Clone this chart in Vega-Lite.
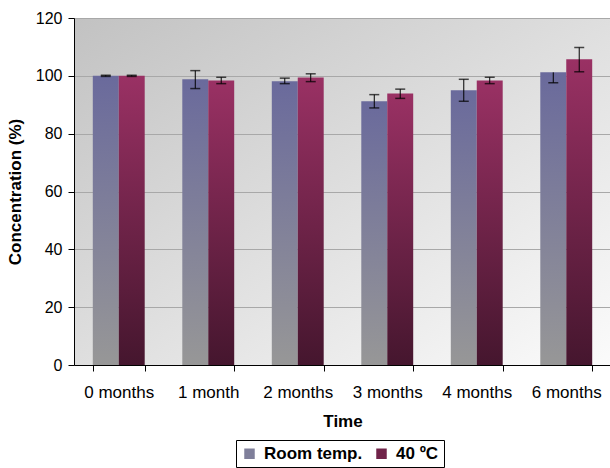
{
  "$schema": "https://vega.github.io/schema/vega-lite/v6.json",
  "autosize": {"type": "none"},
  "padding": {"left": 74, "top": 18, "right": 0, "bottom": 103},
  "width": 537,
  "height": 347,
  "background": "white",
  "config": {
    "font": "Liberation Sans",
    "view": {"stroke": null, "fill": {"gradient": "linear", "x1": 0, "y1": 0, "x2": 1, "y2": 1, "stops": [{"offset": 0, "color": "#c2c2c2"}, {"offset": 1, "color": "#fbfbfb"}]}}
  },
  "data": {
    "values": [
      {"time": "0 months", "series": "Room temp.", "value": 100, "lo": 99.8, "hi": 100.2},
      {"time": "0 months", "series": "40 ºC", "value": 100, "lo": 99.8, "hi": 100.2},
      {"time": "1 month", "series": "Room temp.", "value": 98.8, "lo": 95.6, "hi": 101.8},
      {"time": "1 month", "series": "40 ºC", "value": 98.4, "lo": 97.3, "hi": 99.5},
      {"time": "2 months", "series": "Room temp.", "value": 98.1, "lo": 97.3, "hi": 99.2},
      {"time": "2 months", "series": "40 ºC", "value": 99.4, "lo": 98.0, "hi": 100.7},
      {"time": "3 months", "series": "Room temp.", "value": 91.2, "lo": 88.9, "hi": 93.5},
      {"time": "3 months", "series": "40 ºC", "value": 93.9, "lo": 92.2, "hi": 95.4},
      {"time": "4 months", "series": "Room temp.", "value": 95.0, "lo": 91.2, "hi": 98.8},
      {"time": "4 months", "series": "40 ºC", "value": 98.4, "lo": 97.3, "hi": 99.5},
      {"time": "6 months", "series": "Room temp.", "value": 101.2, "lo": 97.6, "hi": 101.2},
      {"time": "6 months", "series": "40 ºC", "value": 105.7, "lo": 101.4, "hi": 109.8}
    ]
  },
  "encoding": {
    "x": {
      "field": "time", "type": "nominal", "sort": null,
      "scale": {"paddingInner": 0.42, "paddingOuter": 0.21},
      "axis": {
        "title": "Time", "labelAngle": 0, "labelFontSize": 17, "labelColor": "black",
        "labelPadding": 13, "domainColor": "black", "tickColor": "black", "tickSize": 6,
        "tickBand": "extent", "titleFontSize": 17, "titleFontWeight": "bold", "titleColor": "black",
        "titlePadding": 13, "labelLimit": 0
      }
    },
    "xOffset": {"field": "series", "type": "nominal", "sort": ["Room temp.", "40 ºC"], "scale": {"domain": ["Room temp.", "40 ºC"]}}
  },
  "layer": [
    {
      "transform": [{"filter": "datum.series === 'Room temp.'"}],
      "mark": {"type": "bar", "color": {"gradient": "linear", "x1": 0, "y1": 0, "x2": 0, "y2": 1, "stops": [{"offset": 0, "color": "#6a6a9c"}, {"offset": 1, "color": "#979797"}]}},
      "encoding": {
        "y": {
          "field": "value", "type": "quantitative",
          "scale": {"domain": [0, 120], "nice": false},
          "axis": {
            "title": "Concentration (%)", "values": [0, 20, 40, 60, 80, 100, 120],
            "labelFontSize": 16, "labelColor": "black", "labelPadding": 6,
            "domainColor": "black", "tickColor": "black", "tickSize": 6,
            "gridColor": "#a8a8a8", "gridOpacity": 1,
            "titleFontSize": 17, "titleFontWeight": "bold", "titleColor": "black", "titlePadding": 11
          }
        }
      }
    },
    {
      "transform": [{"filter": "datum.series === '40 ºC'"}],
      "mark": {"type": "bar", "color": {"gradient": "linear", "x1": 0, "y1": 0, "x2": 0, "y2": 1, "stops": [{"offset": 0, "color": "#9a3164"}, {"offset": 1, "color": "#45162e"}]}},
      "encoding": {
        "y": {"field": "value", "type": "quantitative"}
      }
    },
    {
      "transform": [{"filter": "false"}],
      "mark": {"type": "bar"},
      "encoding": {
        "y": {"field": "value", "type": "quantitative"},
        "color": {
          "field": "series", "type": "nominal",
          "scale": {"domain": ["Room temp.", "40 ºC"], "range": ["#7f7f9a", "#702349"]},
          "legend": {
            "title": null, "orient": "none", "legendX": 162, "legendY": 422, "direction": "horizontal",
            "columns": 2, "labelFontSize": 17, "labelFontWeight": "bold", "labelColor": "black",
            "symbolType": "square", "symbolSize": 110, "symbolStrokeWidth": 0,
            "strokeColor": "black", "fillColor": "white", "padding": 5, "columnPadding": 10, "labelOffset": 6,
            "encode": {
              "symbols": {
                "enter": {
                  "fill": {"signal": "datum.value === 'Room temp.' ? {gradient: 'linear', x1: 0, y1: 0, x2: 0, y2: 1, stops: [{offset: 0, color: '#6a6a9c'}, {offset: 1, color: '#979797'}]} : {gradient: 'linear', x1: 0, y1: 0, x2: 0, y2: 1, stops: [{offset: 0, color: '#9a3164'}, {offset: 1, color: '#45162e'}]}"}
                },
                "update": {
                  "fill": {"signal": "datum.value === 'Room temp.' ? {gradient: 'linear', x1: 0, y1: 0, x2: 0, y2: 1, stops: [{offset: 0, color: '#6a6a9c'}, {offset: 1, color: '#979797'}]} : {gradient: 'linear', x1: 0, y1: 0, x2: 0, y2: 1, stops: [{offset: 0, color: '#9a3164'}, {offset: 1, color: '#45162e'}]}"}
                }
              }
            }
          }
        }
      }
    },
    {
      "mark": {"type": "rule", "color": "black", "strokeWidth": 1},
      "encoding": {
        "y": {"field": "lo", "type": "quantitative"},
        "y2": {"field": "hi"}
      }
    },
    {
      "mark": {"type": "tick", "color": "black", "size": 10, "thickness": 1.5},
      "encoding": {"y": {"field": "lo", "type": "quantitative"}}
    },
    {
      "transform": [{"filter": "datum.hi > datum.value"}],
      "mark": {"type": "tick", "color": "black", "size": 10, "thickness": 1.5},
      "encoding": {"y": {"field": "hi", "type": "quantitative"}}
    }
  ]
}
